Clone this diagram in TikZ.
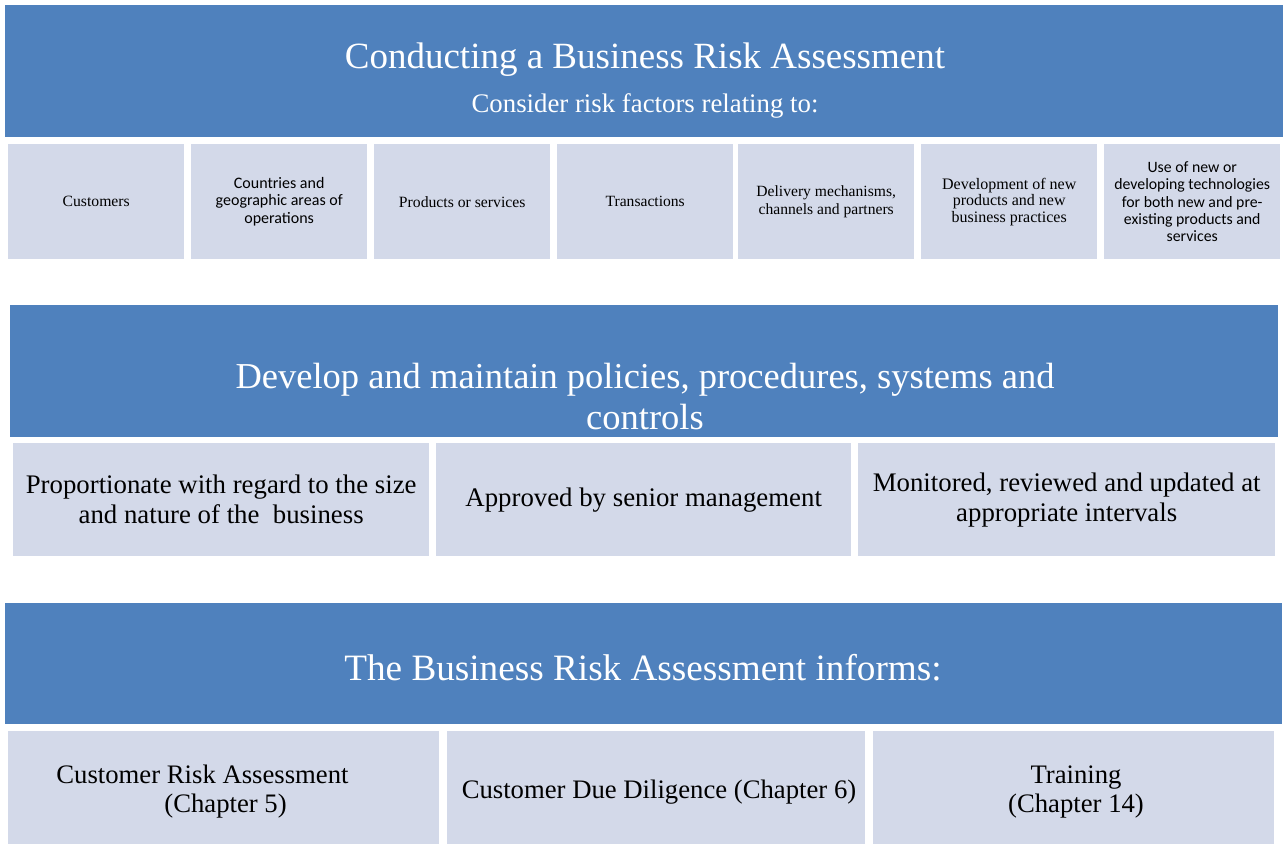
\documentclass[tikz,border=0pt]{standalone}
\usepackage{fontspec}
\setmainfont{Liberation Serif}
\newfontfamily\calibri{Carlito}

\definecolor{bandblue}{HTML}{4F81BD}
\definecolor{factorgrey}{HTML}{D3D9E9}

\tikzset{
	band/.style={rectangle, fill=bandblue, inner sep=0pt, anchor=north west},
	factor/.style={rectangle, fill=factorgrey, inner sep=0pt, anchor=north west},
	bandtext/.style={text=white, anchor=base, inner sep=0pt},
	factortext/.style={text=black, align=center, inner sep=0pt}
}

\begin{document}
\begin{tikzpicture}[x=1pt,y=-1pt]

	%Page frame, pixels of the original
	\useasboundingbox (0,0) rectangle (1288,844);

	%%%%%%%%%%%%%%%%%%%%%%%%%%%%%%%%%%%%%%%%%%%%%%%%%%%
	%	First band: the assessment and its risk factors
	%%%%%%%%%%%%%%%%%%%%%%%%%%%%%%%%%%%%%%%%%%%%%%%%%%%
	\node[band, minimum width=1278pt, minimum height=132pt] (assess) at (5,5) {};
	\node[bandtext, font=\fontsize{37}{40}\selectfont] (assesstitle) at (645,68) {Conducting a Business Risk Assessment};
	\node[bandtext, font=\fontsize{26.8}{30}\selectfont] (assesssub) at (645,112) {Consider risk factors relating to:};

	%Seven factor boxes, each 177 wide
	\foreach \i/\xl in {1/8,2/191,3/374,4/557,5/738,6/921,7/1104}{
		\node[factor, minimum width=176pt, minimum height=115pt] (fac\i) at (\xl,144) {};
	}
	\node[factortext, font=\fontsize{15.7}{18}\selectfont] (facA) at (fac1) {Customers};
	\node[factortext, font=\calibri\fontsize{16}{17.5}\selectfont] (facB) at (fac2) {Countries and\\geographic areas of\\operations};
	\node[factortext, font=\fontsize{15.7}{18}\selectfont] (facC) at (fac3) {Products or services};
	\node[factortext, font=\fontsize{15.6}{18}\selectfont] (facD) at (fac4) {Transactions};
	\node[factortext, font=\fontsize{15.6}{18}\selectfont] (facE) at (fac5) {Delivery mechanisms,\\channels and partners};
	\node[factortext, font=\fontsize{16}{16.5}\selectfont] (facF) at (fac6) {Development of new\\products and new\\business practices};
	\node[factortext, font=\calibri\fontsize{15.8}{17.2}\selectfont] (facG) at (fac7) {Use of new or\\developing technologies\\for both new and pre-\\existing products and\\services};

	%%%%%%%%%%%%%%%%%%%%%%%%%%%%%%%%%%%%%%%%%%%%%%%%%%%
	%	Second band: policies and controls
	%%%%%%%%%%%%%%%%%%%%%%%%%%%%%%%%%%%%%%%%%%%%%%%%%%%
	\node[band, minimum width=1268pt, minimum height=132pt] (policy) at (10,305) {};
	\node[bandtext, font=\fontsize{36.5}{40}\selectfont] (policyone) at (645,388) {Develop and maintain policies, procedures, systems and};
	\node[bandtext, font=\fontsize{36.5}{40}\selectfont] (policytwo) at (645,429) {controls};

	\node[factor, minimum width=416pt, minimum height=113pt] (pol1) at (13,443) {};
	\node[factor, minimum width=415pt, minimum height=113pt] (pol2) at (436,443) {};
	\node[factor, minimum width=417pt, minimum height=113pt] (pol3) at (858,443) {};
	\node[factortext, font=\fontsize{26.8}{30}\selectfont] (polA) at (pol1) {Proportionate with regard to the size\\and nature of the\ \ business};
	\node[factortext, font=\fontsize{26.8}{30}\selectfont] (polB) at (pol2) {Approved by senior management};
	\node[factortext, font=\fontsize{26.8}{30}\selectfont] (polC) at (pol3) {Monitored, reviewed and updated at\\appropriate intervals};

	%%%%%%%%%%%%%%%%%%%%%%%%%%%%%%%%%%%%%%%%%%%%%%%%%%%
	%	Third band: what the assessment informs
	%%%%%%%%%%%%%%%%%%%%%%%%%%%%%%%%%%%%%%%%%%%%%%%%%%%
	\node[band, minimum width=1277pt, minimum height=121pt] (inform) at (5,603) {};
	\node[bandtext, font=\fontsize{37.2}{40}\selectfont] (informtitle) at (643,680) {The Business Risk Assessment informs:};

	\node[factor, minimum width=431pt, minimum height=113pt] (inf1) at (8,731) {};
	\node[factor, minimum width=418pt, minimum height=113pt] (inf2) at (447,731) {};
	\node[factor, minimum width=401pt, minimum height=113pt] (inf3) at (873,731) {};
	\node[factortext, align=left, font=\fontsize{26.7}{29}\selectfont] (infA) at (202.5,792) {Customer Risk Assessment\\\hspace*{108pt}(Chapter 5)};
	\node[factortext, font=\fontsize{26.7}{29}\selectfont] (infB) at (659,792) {Customer Due Diligence (Chapter 6)};
	\node[factortext, font=\fontsize{26.7}{29}\selectfont] (infC) at (1076,792) {Training\\(Chapter 14)};

\end{tikzpicture}
\end{document}
